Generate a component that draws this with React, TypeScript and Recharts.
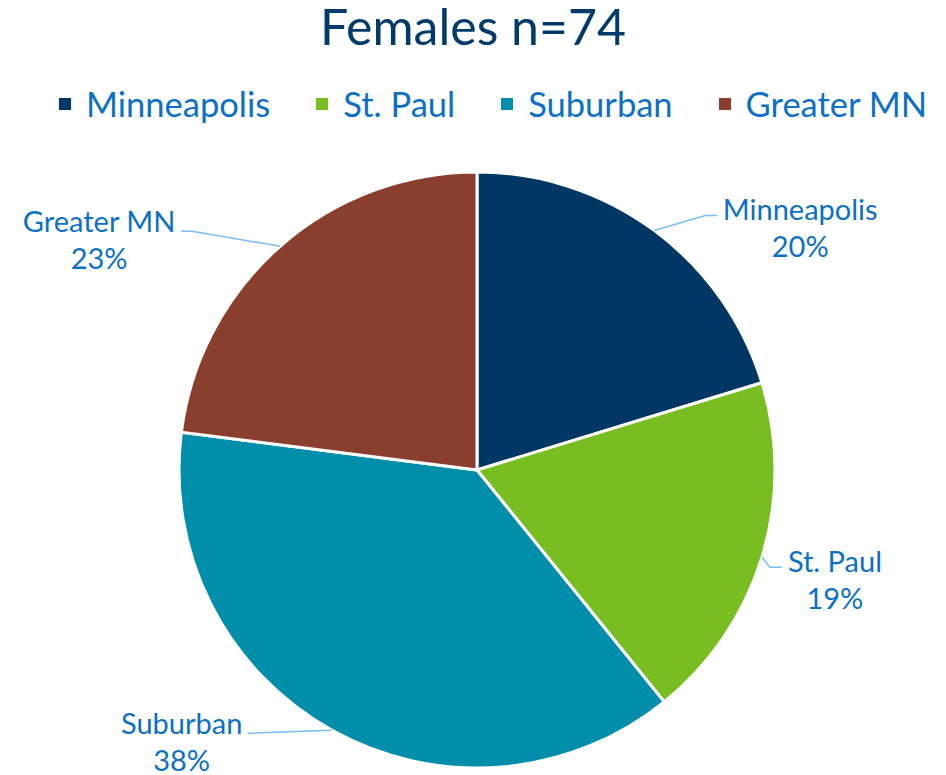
import React from 'react';
import { PieChart, Pie, Cell } from 'recharts';

const categories = ['Minneapolis', 'St. Paul', 'Suburban', 'Greater MN'];
const counts = [15, 14, 28, 17];
const sliceColors = ['#003764', '#78BE21', '#008EAA', '#8A3F2E'];

// leader line elbow / end and text offsets, relative to the slice's edge point
const labelOffsets = [
  { ex: 51, ey: -15, lx: 63, ly: -15, tx: 146, ty: -22 },
  { ex: 8, ey: 10, lx: 20, ly: 10, tx: 73, ty: 3 },
  { ex: -80, ey: 3, lx: -84, ly: 3, tx: -150, ty: -8 },
  { ex: -88, ey: -15, lx: -99, ly: -15, tx: -181, ty: -26 },
];

const FONT = 'Lato, "Open Sans", sans-serif';
const TEXT_BLUE = '#0B70C6';
const LINE_BLUE = '#78BCF8';

const data = categories.map((name, i) => ({ name, value: counts[i] }));

const renderLabel = (props: any) => {
  const { cx, cy, midAngle, outerRadius, index, name, percent } = props;
  const rad = (-midAngle * Math.PI) / 180;
  const ax = cx + outerRadius * Math.cos(rad);
  const ay = cy + outerRadius * Math.sin(rad);
  const o = labelOffsets[index];
  return (
    <g>
      <path
        d={`M${ax},${ay}L${ax + o.ex},${ay + o.ey}L${ax + o.lx},${ay + o.ly}`}
        stroke={LINE_BLUE}
        strokeWidth={1.5}
        fill="none"
      />
      <text
        x={ax + o.tx}
        y={ay + o.ty}
        textAnchor="middle"
        dominantBaseline="central"
        fill={TEXT_BLUE}
        fontSize={29}
        fontFamily={FONT}
      >
        {name}
      </text>
      <text
        x={ax + o.tx}
        y={ay + o.ty + 37}
        textAnchor="middle"
        dominantBaseline="central"
        fill={TEXT_BLUE}
        fontSize={29}
        fontFamily={FONT}
      >
        {`${Math.round(percent * 100)}%`}
      </text>
    </g>
  );
};

const App = () => {
  return (
    <div style={{ position: 'absolute', left: 0, top: 0, width: 946, height: 775, background: '#fff' }}>
      <div
        style={{
          position: 'absolute',
          top: 0,
          left: 0,
          width: 946,
          textAlign: 'center',
          fontFamily: FONT,
          fontSize: 50,
          lineHeight: '52px',
          color: '#003B6A',
        }}
      >
        Females n=74
      </div>
      <div
        style={{
          position: 'absolute',
          top: 82,
          left: 59,
          display: 'flex',
          alignItems: 'center',
          whiteSpace: 'nowrap',
          fontFamily: FONT,
          fontSize: 34.5,
          lineHeight: '44px',
          color: TEXT_BLUE,
        }}
      >
        {categories.map((c, i) => (
          <div key={c} style={{ display: 'flex', alignItems: 'center', flexShrink: 0, marginRight: 46 }}>
            <span style={{ width: 12, height: 12, background: sliceColors[i], marginRight: 15 }} />
            <span>{c}</span>
          </div>
        ))}
      </div>
      <div style={{ position: 'absolute', left: 0, top: 0 }}>
        <PieChart width={946} height={775} margin={{ top: 0, right: 0, bottom: 0, left: 0 }}>
          <Pie
            data={data}
            dataKey="value"
            nameKey="name"
            cx={477}
            cy={470}
            outerRadius={298}
            startAngle={90}
            endAngle={-270}
            stroke="#fff"
            strokeWidth={3}
            label={renderLabel}
            labelLine={false}
            isAnimationActive={false}
          >
            {data.map((d, i) => (
              <Cell key={d.name} fill={sliceColors[i]} />
            ))}
          </Pie>
        </PieChart>
      </div>
    </div>
  );
};

export default App;
